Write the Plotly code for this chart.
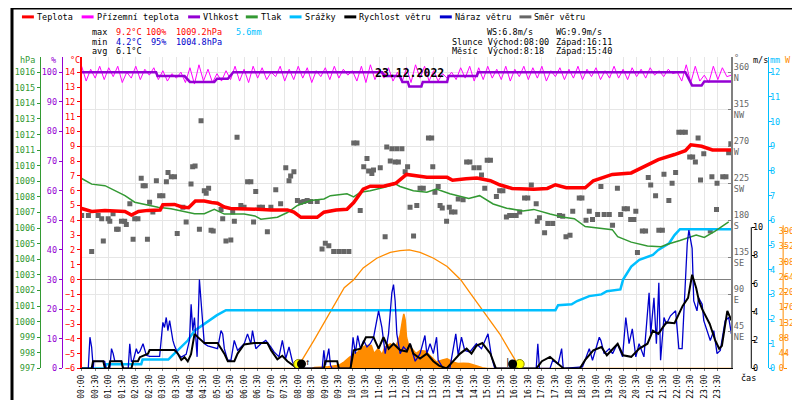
import plotly.graph_objects as go

W, H = 800, 400
FONT = "DejaVu Sans Mono"

# --- data (time in hours) ---
temp_t = [0, 0.37, 0.86, 1.35, 1.6, 1.84, 2.1, 2.45, 2.9, 3.0, 3.43, 3.7, 3.95, 4.2, 4.53, 4.8, 5.02, 5.27,
          5.5, 6.5, 7.0, 7.6, 7.84, 8.1, 8.7, 8.95, 9.4, 9.8, 10.05, 10.4, 10.66, 11.15, 11.6, 12.0, 12.25,
          12.5, 12.75, 13.5, 13.7, 14.2, 14.6, 15.1, 15.44, 15.9, 16.7, 17.2, 17.5, 17.9, 18.6, 18.9, 19.6,
          20.3, 20.8, 21.3, 21.9, 22.3, 22.5, 22.9, 23.3, 24]
temp_v = [4.8, 4.6, 4.67, 4.6, 4.6, 4.35, 4.6, 4.67, 4.7, 5.05, 5.07, 4.9, 4.85, 5.3, 5.3, 5.2, 5.15, 4.9,
          4.8, 4.75, 4.7, 4.7, 4.55, 4.2, 4.2, 4.55, 4.7, 4.75, 5.2, 6.1, 6.3, 6.3, 6.5, 7.1, 7.05,
          7.0, 6.9, 6.9, 6.7, 6.8, 6.85, 6.67, 6.4, 6.15, 6.1, 6.15, 6.4, 6.2, 6.2, 6.67, 7.1,
          7.2, 7.67, 8.1, 8.44, 8.7, 9.1, 9.0, 8.75, 8.75]

# ground temperature, one value every 10 minutes
ground_t = [i / 6 for i in range(145)]
ground_v = [
    14.4, 13.4, 14.2, 13.6, 14.4, 13.5,
    14.3, 13.7, 14.4, 13.3, 14.0, 13.6,
    14.4, 13.5, 14.2, 13.8, 14.3, 13.5,
    14.1, 13.4, 13.9, 13.6, 14.0, 13.3,
    14.3, 13.2, 14.5, 13.4, 14.2, 13.3,
    13.9, 13.4, 14.1, 13.5, 14.4, 13.4,
    14.2, 13.3, 14.4, 13.6, 14.3, 13.5,
    14.0, 13.7, 14.4, 13.4, 14.2, 13.5,
    14.4, 13.6, 14.3, 13.3, 14.1, 13.7,
    14.3, 13.5, 14.4, 13.6, 14.2, 13.8,
    14.1, 13.4, 14.4, 13.3, 14.5, 13.5,
    14.2, 13.6, 14.3, 13.4, 14.0, 13.3,
    14.3, 13.3, 14.5, 13.6, 14.4, 13.4,
    14.1, 13.4, 13.9, 13.6, 14.0, 13.5,
    14.3, 13.6, 14.4, 13.4, 14.3, 13.5,
    14.4, 13.6, 14.2, 13.5, 14.4, 13.4,
    14.2, 13.7, 14.4, 13.5, 14.3, 13.6,
    14.4, 13.4, 14.1, 13.7, 14.3, 13.5,
    14.2, 13.6, 14.4, 13.5, 14.2, 13.7,
    14.3, 13.5, 14.1, 13.6, 14.4, 13.6,
    14.2, 13.5, 14.3, 13.7, 14.2, 13.6,
    14.3, 13.8, 14.1, 13.7, 14.2, 13.9,
    14.0, 13.4, 14.5, 13.3, 14.4, 13.4,
    13.8, 13.3, 14.4, 13.5, 14.3, 13.7,
    13.8,
]

hum_t = [0, 2.75, 2.8, 3.8, 4.0, 4.9, 5.0, 5.4, 5.6, 11.1, 11.2, 11.75, 11.85, 12.05, 12.1, 12.55, 12.6,
         13.5, 13.55, 14.6, 14.65, 22.3, 22.55, 22.9, 23.0, 24]
hum_v = [100, 100, 98.7, 98.7, 96.7, 96.7, 97.8, 97.8, 100, 100, 98.7, 98.7, 96.7, 96.7, 95.2, 95.2, 96.7,
         96.7, 98.7, 98.7, 100, 100, 95.5, 95.5, 96.9, 96.9]

press_t = [0, 0.37, 0.86, 1.23, 1.6, 1.96, 2.45, 2.82, 3.3, 3.7, 4.17, 4.53, 4.9, 5.27, 6.0, 6.4, 6.62,
           7.23, 7.6, 7.97, 8.46, 8.95, 9.19, 9.8, 10.05, 10.3, 10.66, 11.15, 11.6, 11.76, 12.25, 12.75,
           13.1, 13.6, 14.3, 14.7, 15.2, 15.7, 16.3, 16.7, 17.3, 17.8, 18.2, 18.6, 19.1, 19.6, 19.8,
           20.3, 20.9, 21.4, 21.7, 22.1, 22.7, 23.0, 23.4, 23.9]
press_v = [1009.18, 1008.82, 1008.72, 1008.4, 1008.08, 1007.66, 1007.5, 1007.34, 1007.24, 1007.1, 1006.92,
           1006.92, 1007.2, 1006.9, 1006.9, 1006.78, 1006.57, 1006.7, 1007.0, 1007.45, 1007.77, 1007.87,
           1008.08, 1008.2, 1008.0, 1008.3, 1008.4, 1008.6, 1008.82, 1008.67, 1008.4, 1008.3, 1008.5,
           1008.2, 1007.9, 1008.08, 1007.55, 1007.28, 1007.1, 1007.2, 1006.9, 1006.7, 1006.6, 1006.1,
           1006.0, 1005.9, 1005.45, 1005.1, 1004.85, 1004.8, 1005.0, 1005.2, 1005.55, 1005.4, 1005.8, 1006.4]

rain_t = [0, 0.85, 0.9, 2.2, 2.25, 3.2, 3.3, 3.55, 3.92, 4.17, 4.53, 4.78, 5.0, 5.33, 17.5, 17.6, 18.1,
          18.3, 18.75, 19.2, 19.4, 19.9, 20.0, 20.3, 20.6, 21.1, 21.3, 21.7, 21.9, 22.1, 24]
rain_v = [0, 0, 0.17, 0.17, 0.36, 0.36, 0.47, 0.73, 1.13, 1.53, 1.8, 2.0, 2.16, 2.36, 2.36, 2.56, 2.6,
          2.73, 2.93, 3.0, 3.13, 3.2, 3.6, 4.13, 4.4, 4.6, 4.8, 5.07, 5.4, 5.64, 5.64]

wind_pts = [
    (0, 0), (0.37, 0), (0.42, 0.51), (0.8, 0.51), (0.86, 0), (1.0, 0), (1.05, 0.51), (1.47, 0.51),
    (1.53, 0), (1.84, 0), (1.9, 0.51), (2.08, 0.51), (2.15, 0.8), (2.45, 1.05), (2.51, 1.3), (3.43, 1.3),
    (3.55, 1.05), (3.68, 0.6), (3.8, 0.8), (3.92, 0.5), (4.04, 1.0), (4.17, 2.45), (4.3, 2.2), (4.41, 1.98),
    (4.53, 1.8), (5.02, 1.8), (5.27, 1.05), (5.4, 0.51), (5.64, 0.51), (5.76, 1.05), (6.0, 1.7), (6.37, 1.8),
    (6.86, 1.8), (7.0, 1.28), (7.23, 0.65), (7.41, 0.9), (7.6, 0.51), (7.97, 0), (8.95, 0), (9.0, 0.51),
    (9.44, 0.51), (9.5, 0), (9.93, 0), (10.05, 1.28), (10.3, 1.4), (10.5, 2.21), (10.78, 2.21), (10.97, 1.4),
    (11.15, 2.21), (11.34, 1.4), (11.52, 1.75), (11.76, 1.3), (12.01, 1.2), (12.13, 1.75), (12.25, 1.05),
    (12.5, 0.7), (12.75, 1.05), (12.99, 0.51), (13.2, 0.2), (13.48, 0), (13.73, 0.51), (13.98, 1.05),
    (14.22, 1.4), (14.4, 1.05), (14.58, 1.6), (14.8, 1.8), (15.1, 1.05), (15.3, 0), (16.8, 0), (17.0, 0.51),
    (17.3, 0.82), (17.5, 0.51), (17.8, 0), (18.4, 0), (18.6, 0.6), (18.9, 1.28), (19.2, 1.52), (19.4, 0.93),
    (19.8, 1.75), (20.0, 0.93), (20.3, 0.82), (20.6, 1.4), (20.9, 1.75), (21.1, 2.68), (21.3, 2.45),
    (21.6, 3.26), (21.9, 3.2), (22.2, 4.43), (22.4, 5.0), (22.55, 6.64), (22.7, 5.7), (22.8, 4.8),
    (22.92, 4.2), (23.2, 3.15), (23.4, 2.0), (23.55, 1.4), (23.65, 1.6), (23.85, 4.08), (24.0, 3.4),
]

gust_pts = [
    (0, 0), (0.245, 0), (0.306, 2.21), (0.368, 1.52), (0.43, 0), (0.45, 0.5), (0.85, 0.5), (0.9, 0),
    (1.04, 0), (1.103, 1.4), (1.164, 1.05), (1.225, 0.51), (1.47, 0.51), (1.53, 0), (1.72, 0), (1.777, 1.75),
    (1.838, 0.51), (1.9, 0.51), (2.02, 1.4), (2.08, 1.05), (2.15, 1.2), (2.267, 1.75), (2.39, 0.93),
    (2.51, 0.86), (2.88, 0.86), (3.0, 3.26), (3.06, 2.9), (3.125, 3.61), (3.186, 2.68), (3.25, 3.38),
    (3.37, 1.98), (3.43, 1.6), (3.55, 1.05), (3.676, 0.8), (3.86, 1.0), (3.983, 2.0), (4.044, 4.55),
    (4.105, 2.68), (4.167, 3.61), (4.265, 0.82), (4.35, 6.29), (4.41, 4.78), (4.47, 2.68), (4.53, 1.75),
    (4.657, 1.6), (4.78, 1.52), (5.02, 1.4), (5.147, 2.68), (5.21, 2.45), (5.27, 1.4), (5.392, 0.58),
    (5.515, 0.58), (5.637, 1.98), (5.76, 1.28), (6.005, 1.75), (6.127, 2.45), (6.25, 1.75), (6.311, 2.68),
    (6.434, 1.4), (6.62, 1.75), (6.8, 1.98), (6.985, 1.52), (7.107, 1.17), (7.29, 0.82), (7.414, 1.98),
    (7.537, 0.7), (7.66, 1.52), (7.782, 0.51), (7.9, 0), (8.885, 0), (8.946, 1.28), (9.007, 0.23),
    (9.13, 1.4), (9.19, 0.23), (9.25, 0), (9.93, 0), (10.025, 2.21), (10.11, 1.05), (10.196, 2.33),
    (10.294, 1.4), (10.417, 1.98), (10.54, 1.52), (10.66, 1.75), (10.784, 2.21), (10.9, 3.38), (10.968, 4.08),
    (11.09, 2.91), (11.213, 1.05), (11.336, 2.45), (11.458, 5.36), (11.52, 5.94), (11.58, 4.78),
    (11.642, 2.45), (11.765, 1.05), (11.887, 1.52), (12.01, 1.28), (12.13, 1.75), (12.32, 0.51), (12.5, 1.05),
    (12.68, 2.33), (12.75, 1.05), (12.87, 1.75), (12.99, 1.05), (13.11, 2.21), (13.17, 0.58), (13.36, 0),
    (13.6, 0), (13.73, 1.4), (13.82, 2.45), (13.91, 0.93), (14.03, 2.21), (14.15, 1.28), (14.34, 1.17),
    (14.58, 1.75), (14.77, 1.4), (15.01, 2.45), (15.14, 0.82), (15.26, 0), (16.79, 0), (16.85, 1.75),
    (16.91, 0), (17.3, 0), (17.4, 0.58), (17.6, 0.3), (17.73, 1.4), (17.79, 0), (18.5, 0.11), (18.75, 1.4),
    (18.87, 0.58), (19.12, 2.21), (19.18, 1.98), (19.3, 1.05), (19.49, 1.4), (19.61, 1.05), (19.79, 1.75),
    (19.98, 0.82), (20.1, 3.61), (20.22, 1.75), (20.34, 2.8), (20.47, 0.82), (20.59, 1.75), (20.77, 0.82),
    (20.96, 5.36), (21.02, 2.45), (21.14, 5.01), (21.23, 1.75), (21.32, 6.06), (21.385, 0.58), (21.51, 3.61),
    (21.6, 3.15), (21.75, 3.73), (21.94, 4.08), (22.06, 1.4), (22.18, 1.4), (22.27, 5.48), (22.37, 8.86),
    (22.43, 9.8), (22.49, 8.97), (22.55, 8.51), (22.61, 4.78), (22.73, 4.08), (22.79, 5.01), (22.92, 4.55),
    (22.98, 3.38), (23.1, 2.68), (23.22, 1.98), (23.35, 2.68), (23.47, 1.05), (23.59, 1.28), (23.77, 3.38),
    (23.9, 3.61), (24.0, 2.45),
]

dir_pts = [
    (0.0, 186), (0.25, 186), (0.37, 142), (0.61, 186), (0.74, 182), (0.8, 155), (0.98, 182), (1.04, 179),
    (1.16, 188), (1.29, 169), (1.35, 169), (1.47, 179), (1.59, 179), (1.65, 175), (1.78, 200), (1.9, 157),
    (1.96, 182), (2.08, 182), (2.2, 231), (2.27, 222), (2.35, 222), (2.43, 157), (2.51, 202), (2.63, 190),
    (2.76, 228), (2.88, 210), (3.0, 210), (3.13, 227), (3.19, 238), (3.31, 233), (3.43, 233), (3.53, 164),
    (3.74, 196), (3.86, 178), (4.04, 224), (4.1, 245), (4.19, 246), (4.35, 169), (4.41, 301), (4.53, 216),
    (4.6, 213), (4.69, 219), (4.78, 168), (4.86, 167), (5.15, 193), (5.21, 182), (5.33, 155), (5.51, 156),
    (5.58, 190), (5.64, 179), (5.74, 281), (5.88, 198), (6.0, 196), (6.13, 227), (6.25, 227), (6.35, 178),
    (6.43, 215), (6.56, 196), (6.68, 196), (6.86, 166), (6.99, 196), (7.17, 217), (7.35, 200), (7.54, 244),
    (7.66, 228), (7.72, 234), (7.84, 239), (7.97, 204), (8.09, 202), (8.21, 203), (8.33, 204), (8.46, 203),
    (8.7, 203), (8.88, 145), (9.0, 152), (9.13, 149), (9.31, 142), (9.5, 142), (9.68, 142), (9.87, 142),
    (10.05, 274), (10.17, 274), (10.29, 192), (10.42, 245), (10.54, 255), (10.6, 240), (10.72, 237),
    (10.78, 241), (11.03, 244), (11.21, 160), (11.27, 269), (11.4, 252), (11.46, 267), (11.58, 251),
    (11.64, 267), (11.7, 251), (11.83, 267), (11.95, 239), (12.04, 245), (12.13, 196), (12.26, 161),
    (12.38, 198), (12.5, 219), (12.62, 219), (12.81, 280), (12.93, 280), (12.97, 245), (13.05, 214),
    (13.17, 221), (13.24, 198), (13.32, 195), (13.48, 179), (13.58, 196), (13.66, 190), (13.79, 190),
    (13.91, 206), (14.09, 205), (14.22, 251), (14.34, 251), (14.49, 244), (14.68, 244), (14.77, 235),
    (14.89, 219), (14.98, 253), (15.1, 253), (15.32, 209), (15.44, 216), (15.56, 216), (15.69, 184),
    (15.81, 186), (15.93, 186), (16.05, 186), (16.18, 190), (16.36, 207), (16.48, 207), (16.61, 223),
    (16.79, 200), (16.83, 179), (16.91, 183), (17.1, 165), (17.22, 176), (17.4, 176), (17.65, 186),
    (17.77, 185), (17.89, 160), (18.04, 162), (18.14, 191), (18.38, 207), (18.48, 207), (18.63, 180),
    (18.75, 191), (18.87, 181), (19.06, 187), (19.18, 221), (19.3, 187), (19.49, 187), (19.61, 174),
    (19.79, 219), (19.91, 187), (20.04, 194), (20.16, 194), (20.28, 181), (20.4, 181), (20.47, 191),
    (20.53, 141), (20.71, 167), (20.83, 167), (20.93, 232), (21.02, 223), (21.2, 210), (21.32, 168),
    (21.45, 168), (21.51, 236), (21.69, 204), (21.81, 225), (21.94, 238), (22.06, 287), (22.18, 287),
    (22.3, 287), (22.46, 257), (22.57, 257), (22.67, 251), (22.77, 280), (22.86, 229), (22.98, 261),
    (23.22, 167), (23.28, 233), (23.47, 225), (23.45, 193), (23.68, 233), (23.8, 233), (23.9, 262),
    (23.98, 273),
]

solar_t = [0, 8.5, 8.6, 9.1, 9.5, 9.7, 9.9, 10.2, 10.3, 10.5, 10.7, 10.8, 10.95, 11.1, 11.2, 11.4, 11.6,
           11.76, 11.85, 11.9, 11.95, 12.0, 12.1, 12.2, 12.35, 12.5, 12.7, 12.9, 13.1, 13.3, 13.5, 13.7,
           13.9, 14.1, 14.3, 14.6, 14.8, 15.0, 24]
solar_v = [0, 0, 3, 5, 9, 19, 33, 47, 57, 66, 66, 43, 57, 40, 62, 71, 62, 95, 138, 157, 140, 90, 60, 57,
           43, 52, 50, 34, 19, 24, 28, 19, 14, 15, 14, 7, 2, 0, 0]

clear_t = [8.0, 8.1, 8.58, 9.2, 9.7, 10.05, 10.4, 10.9, 11.4, 11.76, 12.1, 12.5, 13.0, 13.5, 14.0, 14.3,
           14.7, 15.1, 15.44, 15.8, 16.0, 16.15]
clear_v = [0, 19, 81, 166, 233, 256, 290, 318, 335, 340, 342, 335, 318, 294, 256, 223, 180, 137, 100, 52,
           26, 0]

sun_events = [8.0, 16.18]
moon_events = [8.12, 15.92]

x_ticks = [i / 2 for i in range(48)]
x_labels = ["%02d:%02d" % (i // 2, 30 * (i % 2)) for i in range(48)]
deg_ticks = [45, 90, 135, 180, 225, 270, 315, 360]
deg_labels = ["45<br>NE", "90<br>E", "135<br>SE", "180<br>S", "225<br>SW", "270<br>W", "315<br>NW", "360<br>N"]

RED, MAG, PUR, GRN, CYA, BLK, BLU, GRY, ORG = (
    "#ff0000", "#ff00ff", "#9400d3", "#339933", "#00bfff", "#000000", "#0000cc", "#666666", "#ff8c00")

fig = go.Figure()

fig.add_trace(go.Scatter(x=[p[0] for p in dir_pts], y=[p[1] for p in dir_pts], yaxis="y", mode="markers",
                         marker=dict(symbol="square", size=5, color=GRY)))
fig.add_trace(go.Scatter(x=solar_t, y=solar_v, yaxis="y2", mode="lines", fill="tozeroy",
                         fillcolor=ORG, line=dict(color=ORG, width=1.5)))
fig.add_trace(go.Scatter(x=clear_t, y=clear_v, yaxis="y2", mode="lines", line=dict(color=ORG, width=1.3)))
fig.add_trace(go.Scatter(x=rain_t, y=rain_v, yaxis="y3", mode="lines", line=dict(color=CYA, width=2.5)))
fig.add_trace(go.Scatter(x=press_t, y=press_v, yaxis="y4", mode="lines", line=dict(color=GRN, width=1.5)))
fig.add_trace(go.Scatter(x=ground_t, y=ground_v, yaxis="y5", mode="lines", line=dict(color=MAG, width=1)))
fig.add_trace(go.Scatter(x=temp_t, y=temp_v, yaxis="y5", mode="lines", line=dict(color=RED, width=3.5)))
fig.add_trace(go.Scatter(x=hum_t, y=hum_v, yaxis="y6", mode="lines", line=dict(color=PUR, width=2.5)))
fig.add_trace(go.Scatter(x=[p[0] for p in gust_pts], y=[p[1] for p in gust_pts], yaxis="y7", mode="lines",
                         line=dict(color=BLU, width=1.3)))
fig.add_trace(go.Scatter(x=[p[0] for p in wind_pts], y=[p[1] for p in wind_pts], yaxis="y7", mode="lines",
                         line=dict(color=BLK, width=2)))
fig.add_trace(go.Scatter(x=sun_events, y=[-5.7, -5.7], yaxis="y8", mode="markers",
                         marker=dict(size=9, color="#ffff00", line=dict(color="#888800", width=1))))
fig.add_trace(go.Scatter(x=moon_events, y=[-5.7, -5.7], yaxis="y8", mode="markers",
                         marker=dict(size=9, color=BLK)))

tf = lambda c, s=8.5: dict(family=FONT, size=s, color=c)
common = dict(overlaying="y", showgrid=False, zeroline=False, ticks="outside", ticklen=3, ticklabelstandoff=0)
right = dict(common, anchor="free", side="right", ticklabelstandoff=-4)
ydom = [35 / H, 350 / H]

fig.update_layout(
    width=W, height=H, margin=dict(l=0, r=0, t=0, b=0),
    paper_bgcolor="white", plot_bgcolor="white", showlegend=False,
    font=dict(family=FONT, size=8.5, color="black"),
    xaxis=dict(domain=[70 / W, 723 / W], range=[0, 24], tickvals=x_ticks, ticktext=x_labels, tickangle=-90,
               showgrid=True, gridcolor="#e6e6e6", showline=True, linecolor="black", linewidth=1,
               ticks="outside", ticklen=2, tickcolor="#808080", zeroline=False, tickfont=tf("black", 8),
               ticklabelstandoff=0),
    yaxis=dict(domain=ydom, range=[0, 378], side="right", anchor="x", tickvals=deg_ticks, ticktext=deg_labels,
               showgrid=True, gridcolor="#e6e6e6", showline=True, linecolor="#808080", linewidth=1.5,
               ticks="inside", ticklen=4, tickcolor="#808080", zeroline=False, tickfont=tf(GRY),
               ticklabelstandoff=-1),
    yaxis2=dict(right, position=775 / W, range=[0, 897.4], ticklabelstandoff=-10,
                tickvals=[0, 44, 88, 132, 176, 220, 264, 308, 352, 396], showline=False,
                tickcolor=ORG, tickfont=tf(ORG)),
    yaxis3=dict(right, position=760 / W, range=[0, 12.6], dtick=1,
                showline=True, linecolor=CYA, tickcolor=CYA, tickfont=tf(CYA)),
    yaxis4=dict(common, anchor="free", position=28 / W, side="left", range=[997, 1016.95], dtick=1,
                showline=True, linecolor=GRN, tickcolor=GRN, tickfont=tf(GRN)),
    yaxis5=dict(common, anchor="x", side="left", range=[-6, 15], tickvals=list(range(-6, 15)),
                showline=True, linecolor=RED, linewidth=1.5, tickcolor=RED, tickfont=tf(RED),
                zeroline=True, zerolinecolor="#808080", zerolinewidth=1),
    yaxis6=dict(common, anchor="free", position=50 / W, side="left", range=[0, 105], dtick=10,
                showline=True, linecolor=PUR, tickcolor=PUR, tickfont=tf(PUR)),
    yaxis7=dict(right, position=743 / W, range=[0, 22.03],
                tickvals=[0, 2, 4, 6, 8, 10], showline=False, tickcolor=BLK, tickfont=tf(BLK)),
    yaxis8=dict(overlaying="y", range=[-6, 15], visible=False),
)

# short axis lines for the wind and radiation scales, and the frame
fig.add_shape(type="line", xref="paper", yref="paper", x0=743 / W, x1=743 / W, y0=1 - 365 / H, y1=1 - 222 / H,
              line=dict(color=BLK, width=1))
fig.add_shape(type="line", xref="paper", yref="paper", x0=775 / W, x1=775 / W, y0=1 - 365 / H, y1=1 - 220 / H,
              line=dict(color=ORG, width=1))
fig.add_shape(type="rect", xref="paper", yref="paper", x0=0, x1=1, y0=0, y1=1, line=dict(color="black", width=3))


def note(px, py, text, color="black", size=8.5, anchor="left"):
    fig.add_annotation(x=px / W, y=1 - py / H, xref="paper", yref="paper", text=text, showarrow=False,
                       xanchor=anchor, yanchor="middle", font=dict(family=FONT, size=size, color=color))


# legend row
legend = [("Teplota", RED, 10), ("Přízemní teplota", MAG, 70), ("Vlhkost", PUR, 177), ("Tlak", GRN, 235),
          ("Srážky", CYA, 279), ("Rychlost větru", BLK, 334), ("Náraz větru", BLU, 430), ("Směr větru", GRY, 510)]
for name, col, x0 in legend:
    fig.add_shape(type="line", xref="paper", yref="paper", x0=x0 / W, x1=(x0 + 12) / W, y0=1 - 9 / H,
                  y1=1 - 9 / H, line=dict(color=col, width=3))
    note(x0 + 13, 9, name)

# statistics block
note(78, 24, "max")
note(103, 24, "9.2°C", RED)
note(133, 24, "100%", RED)
note(163, 24, "1009.2hPa", RED)
note(223, 24, "5.6mm", CYA)
note(78, 34, "min")
note(103, 34, "4.2°C", BLU)
note(138, 34, "95%", BLU)
note(163, 34, "1004.8hPa", BLU)
note(78, 44, "avg")
note(103, 44, "6.1°C")
note(475, 24, "WS:6.8m/s")
note(545, 24, "WG:9.9m/s")
note(440, 34, "Slunce Východ:08:00")
note(545, 34, "Západ:16:11")
note(440, 44, "Měsíc  Východ:8:18")
note(545, 44, "Západ:15:40")

# axis titles
note(16, 53, "hPa", GRN, anchor="center")
note(42, 53, "%", PUR, anchor="center")
note(63, 53, "°C", RED, anchor="center")
note(728, 51, "°", GRY, anchor="center")
note(752, 53, "m/s", BLK, anchor="center")
note(767, 53, "mm", CYA, anchor="center")
note(780, 53, "W", ORG, anchor="center")
note(740, 375, "čas", BLK, anchor="center")

fig.add_annotation(x=399 / W, y=1 - 57 / H, xref="paper", yref="paper", text="<b>23.12.2022</b>",
                   showarrow=False, font=dict(family=FONT, size=11.5, color="black"))
fig.add_annotation(x=8.35, y=-5.55, xref="x", yref="y8", text="↑", showarrow=False,
                   font=dict(family=FONT, size=9, color="black"))
fig.add_annotation(x=15.74, y=-5.55, xref="x", yref="y8", text="|", showarrow=False,
                   font=dict(family=FONT, size=9, color="black"))

fig.write_html("out.html")
